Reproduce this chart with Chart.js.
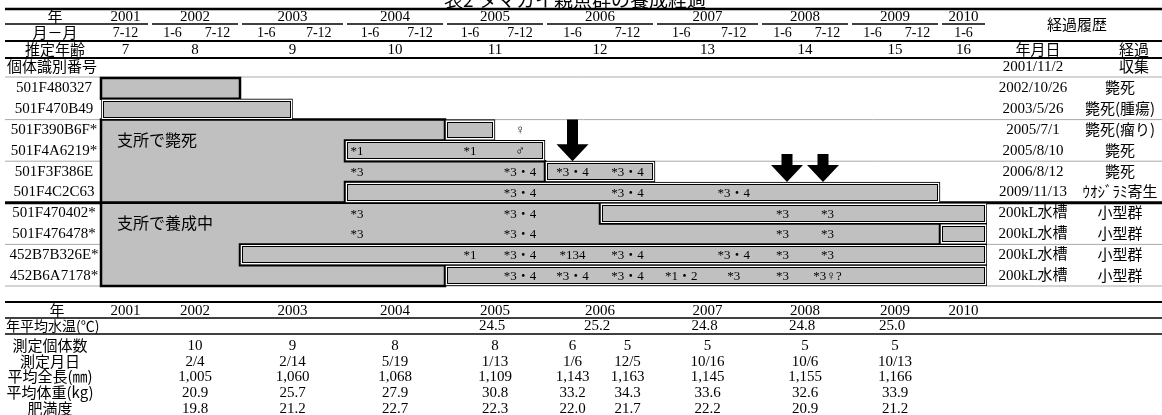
<!DOCTYPE html>
<html>
<head>
<meta charset="utf-8">
<script src="https://cdn.jsdelivr.net/npm/chart.js@4.4.1/dist/chart.umd.min.js"></script>
<style>
  html, body { margin: 0; padding: 0; background: #fff; }
  #wrap { width: 1162px; height: 415px; position: relative; }
</style>
</head>
<body>
<div id="wrap"><canvas id="sheet"></canvas></div>
<script>
const titleText = '表2 タマカイ親魚群の養成経過';

const headerYears = [2001, 2002, 2003, 2004, 2005, 2006, 2007, 2008, 2009, 2010];
const ages = [7, 8, 9, 10, 11, 12, 13, 14, 15, 16];
const halfCols = ['7-12', '1-6', '7-12', '1-6', '7-12', '1-6', '7-12', '1-6', '7-12',
                  '1-6', '7-12', '1-6', '7-12', '1-6', '7-12', '1-6', '7-12', '1-6'];

const fishIds = ['501F480327', '501F470B49', '501F390B6F*', '501F4A6219*', '501F3F386E',
                 '501F4C2C63', '501F470402*', '501F476478*', '452B7B326E*', '452B6A7178*'];

// grey run of each fish (years), and its double-framed box
const blockSpans = [[2001.5, 2003.0], null, [2001.5, 2005.0], [2001.5, 2004.0], [2001.5, 2006.0],
                    [2001.5, 2004.0], [2001.5, 2006.5], [2001.5, 2010.0], [2001.5, 2003.0], [2001.5, 2005.0]];
const boxSpans = [null, [2001.5, 2003.5], [2005.0, 2005.5], [2004.0, 2006.0], [2006.0, 2007.0],
                  [2004.0, 2010.0], [2006.5, 2010.5], [2010.0, 2010.5], [2003.0, 2010.5], [2005.0, 2010.5]];
// rows framed together (first, last)
const groups = [[0, 0], [2, 5], [6, 9]];
const groupLabels = [['支所で斃死', 2.5], ['支所で養成中', 6.5]];

// notes inside the bars: [row, year position, text]
const notes = [
  [2, 2005.75, '♀'],
  [3, 2004.12, '*1'], [3, 2005.25, '*1'], [3, 2005.75, '♂'],
  [4, 2004.12, '*3'], [4, 2005.75, '*3・4'], [4, 2006.25, '*3・4'], [4, 2006.75, '*3・4'],
  [5, 2005.75, '*3・4'], [5, 2006.75, '*3・4'], [5, 2007.75, '*3・4'],
  [6, 2004.12, '*3'], [6, 2005.75, '*3・4'], [6, 2008.25, '*3'], [6, 2008.75, '*3'],
  [7, 2004.12, '*3'], [7, 2005.75, '*3・4'], [7, 2008.25, '*3'], [7, 2008.75, '*3'],
  [8, 2005.25, '*1'], [8, 2005.75, '*3・4'], [8, 2006.25, '*134'], [8, 2006.75, '*3・4'],
  [8, 2007.75, '*3・4'], [8, 2008.25, '*3'], [8, 2008.75, '*3'],
  [9, 2005.75, '*3・4'], [9, 2006.25, '*3・4'], [9, 2006.75, '*3・4'], [9, 2007.25, '*1・2'],
  [9, 2007.75, '*3'], [9, 2008.25, '*3'], [9, 2008.75, '*3♀?']
];

// big arrows: year position, top row value, tip row value
const arrowMarks = [[2006.25, 1.5, 3.5], [2008.3, 3.15, 4.5], [2008.7, 3.15, 4.5]];

// history column
const historyDates = ['2002/10/26', '2003/5/26', '2005/7/1', '2005/8/10', '2006/8/12', '2009/11/13',
                      '200kL水槽', '200kL水槽', '200kL水槽', '200kL水槽'];
const historyNotes = ['斃死', '斃死(腫瘍)', '斃死(瘤り)', '斃死', '斃死', 'ｳｵｼﾞﾗﾐ寄生',
                      '小型群', '小型群', '小型群', '小型群'];

// lower table
const tempYears = [2005, 2006, 2007, 2008, 2009];
const waterTemp = [24.5, 25.2, 24.8, 24.8, 25.0];
const measAt = [2002.5, 2003.5, 2004.5, 2005.5, 2006.25, 2006.75, 2007.5, 2008.5, 2009.5];
const measCount = [10, 9, 8, 8, 6, 5, 5, 5, 5];
const measDate = ['2/4', '2/14', '5/19', '1/13', '1/6', '12/5', '10/16', '10/6', '10/13'];
const meanLength = [1005, 1060, 1068, 1109, 1143, 1163, 1145, 1155, 1166];
const meanWeight = [20.9, 25.7, 27.9, 30.8, 33.2, 34.3, 33.6, 32.6, 33.9];
const condition = [19.8, 21.2, 22.7, 22.3, 22.0, 21.7, 22.2, 20.9, 21.2];

// --- look ---
const SERIF = '"Liberation Serif", "Noto Sans CJK JP", serif';
const JP = '"Noto Sans CJK JP", sans-serif';
const GREY = '#c0c0c0';
// the sheet's year columns are not all the same width (px per year column)
const colEdges = [2001.5, 2002, 2003, 2004, 2005, 2006, 2007, 2008, 2009, 2010, 2010.5];
const colWidths = [49, 90, 105, 100, 100, 110, 105, 90, 90, 47];

// linear scale that follows the uneven column widths
class SheetScale extends Chart.LinearScale {
    getPixelForValue(value) {
        if (value === null || value === undefined || isNaN(value)) return NaN;
        const total = colWidths.reduce((a, b) => a + b, 0);
        let acc = 0;
        for (let i = 0; i < colWidths.length; i++) {
            const a = colEdges[i], b = colEdges[i + 1];
            if (value <= b || i === colWidths.length - 1) {
                return this.getPixelForDecimal((acc + colWidths[i] * (value - a) / (b - a)) / total);
            }
            acc += colWidths[i];
        }
    }
}
SheetScale.id = 'sheetcols';
SheetScale.defaults = Chart.LinearScale.defaults;
Chart.register(SheetScale);

function put(ctx, s, x, y, font, align, base) {
    ctx.font = font;
    ctx.textAlign = align || 'center';
    ctx.textBaseline = base || 'middle';
    ctx.fillStyle = '#000';
    ctx.fillText(s, x, y);
}

// japanese text sits a bit low on 'middle', nudge it up
function jp(ctx, s, x, y, size, align) {
    put(ctx, s, x, y - size * 0.05, size + 'px ' + JP, align);
}

function hline(ctx, x1, x2, y, w, color) {
    ctx.beginPath();
    ctx.moveTo(x1, y);
    ctx.lineTo(x2, y);
    ctx.lineWidth = w;
    ctx.strokeStyle = color || '#000';
    ctx.stroke();
}

function yearMid(y) {
    return (Math.max(y, 2001.5) + Math.min(y + 1, 2010.5)) / 2;
}

// --- everything that is not a bar ---
const sheetPlugin = {
    id: 'sheet',
    beforeDatasetsDraw(chart) {
        const ctx = chart.ctx;
        const X = v => chart.scales.x.getPixelForValue(v);
        const Y = v => chart.scales.y.getPixelForValue(v);
        const R = 1162;
        const num = '15px ' + SERIF;
        ctx.save();

        put(ctx, titleText, 575, 9, '19px ' + JP, 'center', 'bottom');

        // header block
        hline(ctx, 5, R, 9, 2.5);
        jp(ctx, '年', 55, 17, 15);
        headerYears.forEach((yr, i) => {
            put(ctx, String(yr), X(yearMid(yr)), 17, num);
            put(ctx, String(ages[i]), X(yearMid(yr)), 50, num);
            const a = yr === 2001 ? 5 : X(yr) + 2;
            const b = yr === 2010 ? X(2010.5) - 2 : X(yr + 1) - 2;
            hline(ctx, a, b, 24, 1.5);
        });
        jp(ctx, '経過履歴', 1077, 25, 15);
        jp(ctx, '月－月', 55, 33, 15);
        halfCols.forEach((s, i) => put(ctx, s, X(2001.75 + 0.5 * i), 33, '14px ' + SERIF));
        hline(ctx, 5, R, 41, 2);
        jp(ctx, '推定年齢', 55, 50, 15);
        jp(ctx, '年月日', 1038, 50, 15);
        jp(ctx, '経過', 1134, 50, 15);
        hline(ctx, 5, R, 58, 2);
        jp(ctx, '個体識別番号', 7, 67, 15, 'left');
        put(ctx, '2001/11/2', 1033, 67, num);
        jp(ctx, '収集', 1134, 67, 15);
        hline(ctx, 5, R, 77, 1, '#aaa');

        // row separators
        [1.5, 3.5, 7.5, 9.5].forEach(v => hline(ctx, 5, R, Y(v), 1, '#aaa'));
        hline(ctx, 5, R, Y(5.5), 3);

        // row labels + history column
        fishIds.forEach((id, i) => {
            put(ctx, id, 54, Y(i), num);
            put(ctx, historyDates[i], 1033, Y(i), num);
            jp(ctx, historyNotes[i], 1120, Y(i), 15);
        });

        // lower table
        hline(ctx, 5, R, 302, 2);
        jp(ctx, '年', 57, 311, 15);
        headerYears.forEach(yr => put(ctx, String(yr), X(yearMid(yr)), 311, num));
        hline(ctx, 5, R, 318, 1.5);
        jp(ctx, '年平均水温(℃)', 6, 326, 14, 'left');
        tempYears.forEach((yr, i) => put(ctx, waterTemp[i].toFixed(1), X(yearMid(yr)) - 3, 326, num));
        hline(ctx, 5, R, 334, 1.5);
        const rows = [
            ['測定個体数', 346, measCount.map(String)],
            ['測定月日', 362, measDate],
            ['平均全長(㎜)', 377, meanLength.map(v => v.toLocaleString('en-US'))],
            ['平均体重(kg)', 393, meanWeight.map(v => v.toFixed(1))],
            ['肥満度', 409, condition.map(v => v.toFixed(1))]
        ];
        rows.forEach(([label, y, vals]) => {
            jp(ctx, label, 50, y, 15);
            vals.forEach((s, i) => put(ctx, s, X(measAt[i]), y, num));
        });
        ctx.restore();
    },
    afterDatasetDraw(chart, args) {
        const ctx = chart.ctx;
        const X = v => chart.scales.x.getPixelForValue(v);
        const Y = v => chart.scales.y.getPixelForValue(v);
        ctx.save();
        if (args.index === 1) {
            // thick frame round each group of grey runs
            groups.forEach(([r0, r1]) => {
                const left = X(blockSpans[r0][0]);
                ctx.beginPath();
                ctx.moveTo(left, Y(r0 - 0.5));
                for (let r = r0; r <= r1; r++) {
                    const right = X(blockSpans[r][1]);
                    ctx.lineTo(right, Y(r - 0.5));
                    ctx.lineTo(right, Y(r + 0.5));
                }
                ctx.lineTo(left, Y(r1 + 0.5));
                ctx.closePath();
                ctx.lineWidth = 2.5;
                ctx.strokeStyle = '#000';
                ctx.stroke();
            });
        }
        if (args.index === 0) {
            // second line of the double frames
            args.meta.data.forEach((el, i) => {
                if (!boxSpans[i]) return;
                const p = el.getProps(['x', 'y', 'base', 'height'], true);
                const l = Math.round(Math.min(p.x, p.base)), r = Math.round(Math.max(p.x, p.base));
                const t = Math.round(p.y - p.height / 2), b = Math.round(p.y + p.height / 2);
                if (!isFinite(l) || r - l < 6) return;
                ctx.lineWidth = 1;
                ctx.strokeStyle = '#fff';
                ctx.strokeRect(l + 1.5, t + 1.5, r - l - 3, b - t - 3);
                ctx.strokeStyle = '#000';
                ctx.strokeRect(l + 2.5, t + 2.5, r - l - 5, b - t - 5);
            });
        }
        ctx.restore();
    },
    afterDatasetsDraw(chart) {
        const ctx = chart.ctx;
        const X = v => chart.scales.x.getPixelForValue(v);
        const Y = v => chart.scales.y.getPixelForValue(v);
        ctx.save();
        notes.forEach(([row, at, s]) => put(ctx, s, X(at), Y(row) + 1, '13px ' + SERIF));
        groupLabels.forEach(([s, v]) => jp(ctx, s, X(2001.5) + 16, Y(v), 16, 'left'));
        // down arrows
        ctx.fillStyle = '#000';
        arrowMarks.forEach(([at, from, to]) => {
            const cx = X(at), top = Y(from), tip = Y(to);
            const head = 17, sw = 5.5, hw = 16;
            ctx.beginPath();
            ctx.moveTo(cx - sw, top);
            ctx.lineTo(cx + sw, top);
            ctx.lineTo(cx + sw, tip - head);
            ctx.lineTo(cx + hw, tip - head);
            ctx.lineTo(cx, tip);
            ctx.lineTo(cx - hw, tip - head);
            ctx.lineTo(cx - sw, tip - head);
            ctx.closePath();
            ctx.fill();
        });
        ctx.restore();
    }
};

// --- Create the Chart ---
const ctx = document.getElementById('sheet').getContext('2d');
new Chart(ctx, {
    type: 'bar',
    data: {
        labels: fishIds,
        datasets: [
            {
                label: 'box',
                data: boxSpans,
                backgroundColor: GREY,
                borderColor: '#000',
                borderWidth: 1,
                borderSkipped: false,
                barPercentage: 1,
                categoryPercentage: 1,
                grouped: false,
                order: 1
            },
            {
                label: 'block',
                data: blockSpans,
                backgroundColor: GREY,
                borderWidth: 0,
                barPercentage: 1,
                categoryPercentage: 1,
                grouped: false,
                order: 2
            }
        ]
    },
    options: {
        indexAxis: 'y',
        responsive: true,
        maintainAspectRatio: false,
        animation: false,
        events: [],
        layout: { padding: { left: 101, right: 175, top: 78, bottom: 129 } },
        scales: {
            x: { type: 'sheetcols', min: 2001.5, max: 2010.5, display: false },
            y: { type: 'category', display: false }
        },
        plugins: {
            legend: { display: false },
            tooltip: { enabled: false }
        }
    },
    plugins: [sheetPlugin]
});
</script>
</body>
</html>
